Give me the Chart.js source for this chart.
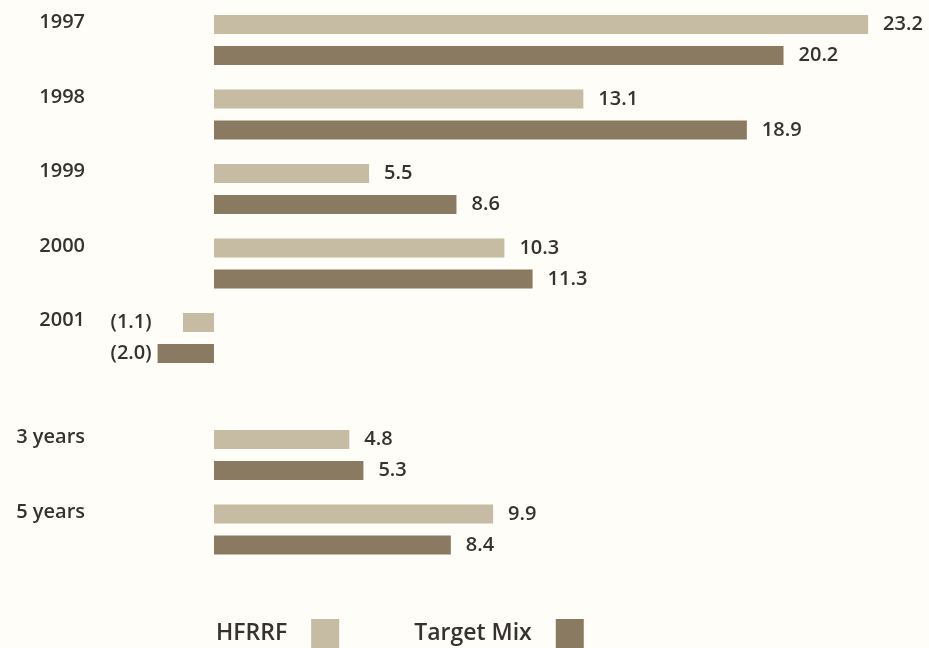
<!DOCTYPE html>
<html>
<head>
<meta charset="utf-8">
<script src="https://cdn.jsdelivr.net/npm/chart.js@4.4.0/dist/chart.umd.min.js"></script>
<style>
body { margin: 0; background: #fefdf8; }
#wrap { position: relative; width: 929px; height: 648px; }
</style>
</head>
<body>
<div id="wrap"><canvas id="returnsChart"></canvas></div>
<script>
const periods = ['1997', '1998', '1999', '2000', '2001', '3 years', '5 years'];
const hfrrfReturns = [23.2, 13.1, 5.5, 10.3, -1.1, 4.8, 9.9];
const targetMixReturns = [20.2, 18.9, 8.6, 11.3, -2.0, 5.3, 8.4];
const seriesNames = ['HFRRF', 'Target Mix'];

const colours = ['#c6bca4', '#8a7a62'];
const textColour = '#36322f';
const labelFont = '600 20px "Open Sans"';

// the 3 and 5 year rows sit a bit further down than the single years
const yearCount = 5;
const sectionGap = 0.57;
function rowOf(i) {
	return i < yearCount ? i : i + sectionGap;
}

function toPoints(values) {
	return values.map((v, i) => ({x: v, y: rowOf(i)}));
}

function fmt(v) {
	return v < 0 ? `(${Math.abs(v).toFixed(1)})` : v.toFixed(1);
}

const labelPlugin = {
	id: 'barLabels',
	afterDatasetsDraw(chart) {
		const ctx = chart.ctx;
		const zero = chart.scales.x.getPixelForValue(0);
		const metas = chart.data.datasets.map((d, k) => chart.getDatasetMeta(k));
		ctx.save();
		ctx.fillStyle = textColour;
		ctx.font = labelFont;
		ctx.textBaseline = 'middle';

		// period names, level with the first bar of each pair
		ctx.textAlign = 'right';
		periods.forEach((p, i) => {
			ctx.fillText(p, 85, metas[0].data[i].y - 2);
		});

		// value next to every bar, negatives lined up on the left
		periods.forEach((p, i) => {
			const lowest = Math.min(...metas.map(m => m.data[i].x));
			metas.forEach((m, k) => {
				const v = chart.data.datasets[k].data[i].x;
				const bar = m.data[i];
				if(v >= 0) {
					ctx.textAlign = 'left';
					ctx.fillText(fmt(v), bar.x + 15, bar.y);
				} else {
					ctx.textAlign = 'right';
					ctx.fillText(fmt(v), lowest - 6, bar.y);
				}
			});
		});

		// legend: name then swatch
		ctx.font = '600 23px "Open Sans"';
		ctx.textAlign = 'left';
		ctx.textBaseline = 'alphabetic';
		let x = zero + 2;
		seriesNames.forEach((name, k) => {
			ctx.fillStyle = textColour;
			ctx.fillText(name, x, 640);
			x += ctx.measureText(name).width + 24;
			ctx.fillStyle = colours[k];
			ctx.fillRect(x, 619, 28, 29);
			x += 28 + 75;
		});
		ctx.restore();
	}
};

new Chart(document.getElementById('returnsChart'), {
	type: 'bar',
	data: {
		datasets: [{
			label: seriesNames[0],
			data: toPoints(hfrrfReturns),
			backgroundColor: colours[0]
		}, {
			label: seriesNames[1],
			data: toPoints(targetMixReturns),
			backgroundColor: colours[1]
		}]
	},
	options: {
		indexAxis: 'y',
		responsive: true,
		maintainAspectRatio: false,
		animation: false,
		layout: { padding: 0 },
		datasets: {
			bar: {
				categoryPercentage: 0.832,
				barPercentage: 0.613
			}
		},
		scales: {
			x: {
				type: 'linear',
				display: false,
				min: -7.59,
				max: 25.36
			},
			y: {
				type: 'linear',
				display: false,
				offset: false,
				reverse: true,
				min: -0.537,
				max: 8.161,
				afterBuildTicks: scale => {
					scale.ticks = periods.map((p, i) => ({value: rowOf(i)}));
				}
			}
		},
		plugins: {
			legend: { display: false },
			tooltip: { enabled: false }
		}
	},
	plugins: [labelPlugin]
});
</script>
</body>
</html>
